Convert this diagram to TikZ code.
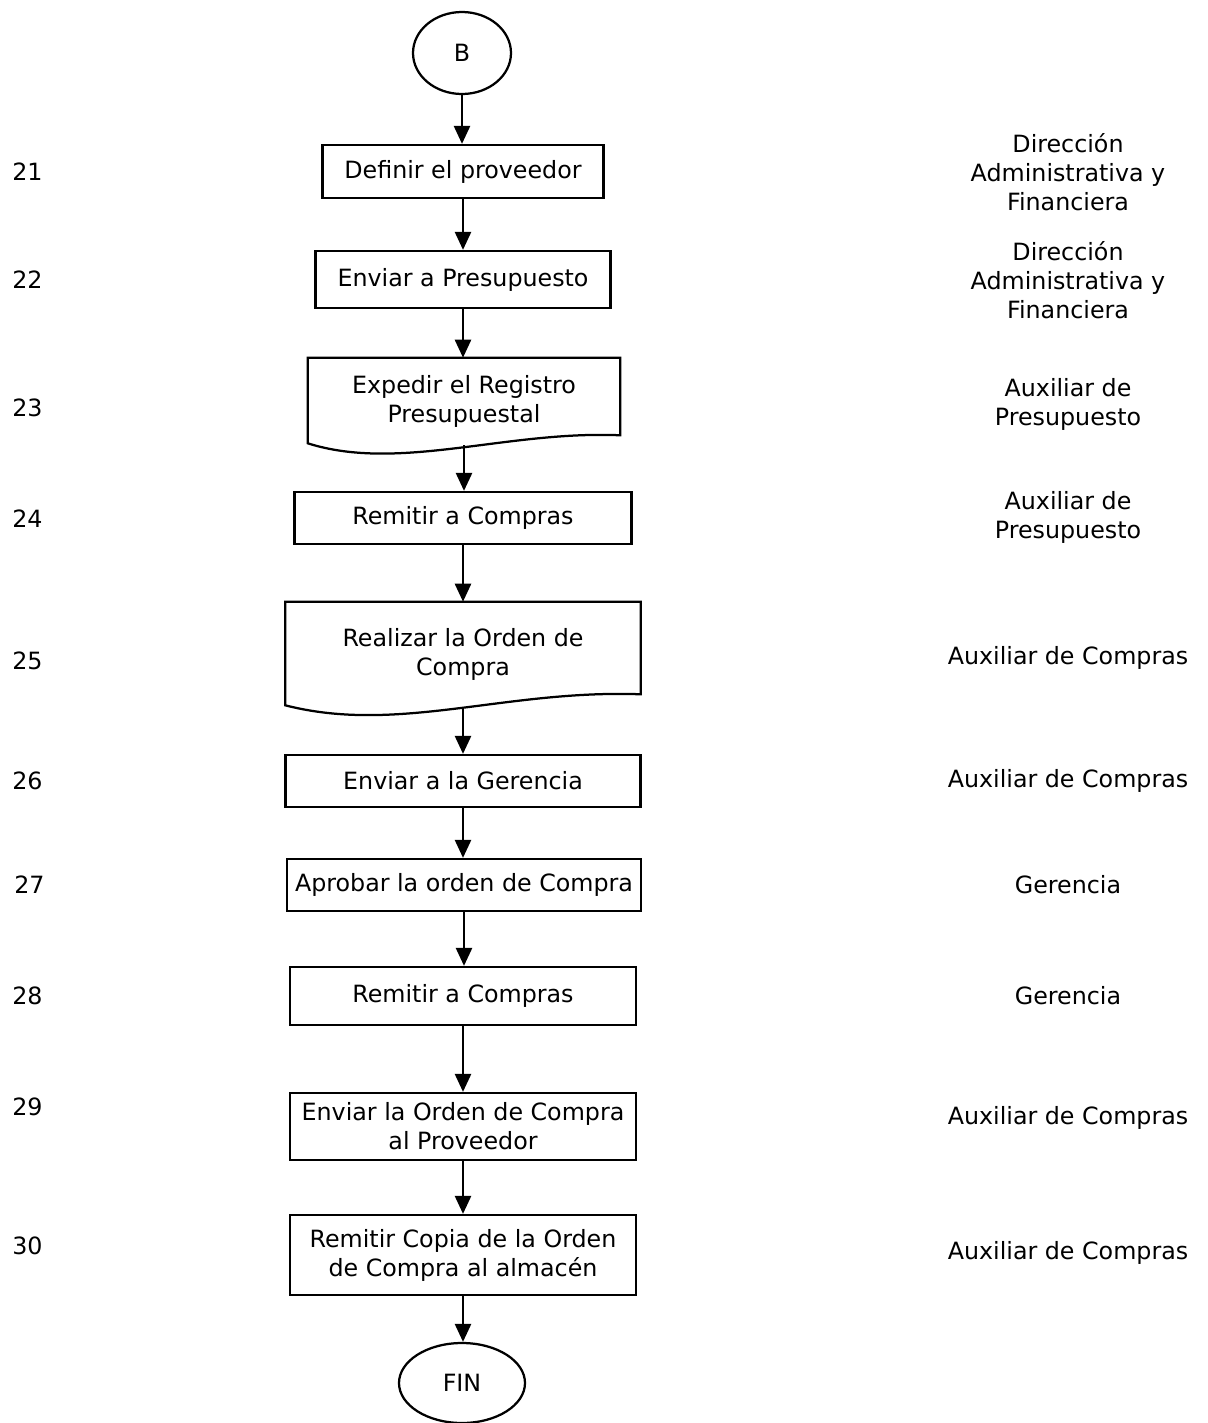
\documentclass[tikz,border=0pt]{standalone}
\usepackage{fontspec}
\setmainfont{DejaVu Sans}
\usetikzlibrary{shapes.geometric, arrows.meta, positioning, calc}

\newdimen\pxu \pxu=0.025cm

% document symbol: top, sides and wavy bottom drawn round a node
\newcommand{\docoutline}[2]{%
  \draw[line width=1.6pt] ($(#1.south west)+(0,-2)$) -- (#1.north west) -- (#1.north east) -- ($(#1.south east)+(0,-#2)$)
    .. controls ($(#1.south)+(42,-#2-5)$) and ($(#1.south)+(-65,27)$) .. ($(#1.south west)+(0,-2)$) -- cycle;}

\begin{document}
\begin{tikzpicture}[
    x=0.025cm, y=-0.025cm,
    font=\fontsize{16.9}{20.6}\selectfont,
    box/.style={rectangle, draw=black, line width=1.6pt, text centered, align=center, inner sep=0pt},
    doc/.style={rectangle, text centered, align=center, inner sep=0pt},
    term/.style={ellipse, draw=black, line width=1.6pt, inner sep=0pt},
    num/.style={anchor=west, inner sep=0pt},
    role/.style={align=center},
    arrow/.style={line width=1.8pt, -{Triangle[length=0.45cm, width=0.4cm]}}
]
\useasboundingbox (0,0) rectangle (1208,1423);

% Connector B
\node[term, minimum width=98\pxu, minimum height=82\pxu] (start) at (462,53) {B};

% Steps
\node[box, minimum width=281\pxu, minimum height=53\pxu] (s21) at (463,171.5) {Definir el proveedor};
\node[box, minimum width=295\pxu, minimum height=57\pxu] (s22) at (463,279.5) {Enviar a Presupuesto};
\node[doc, minimum width=312\pxu, minimum height=87\pxu] (s23) at (464,401.5) {Expedir el Registro\\Presupuestal};
\node[box, minimum width=337\pxu, minimum height=52\pxu] (s24) at (463,518) {Remitir a Compras};
\node[doc, minimum width=355\pxu, minimum height=105\pxu] (s25) at (463,654.5) {Realizar la Orden de\\Compra};
\node[box, minimum width=355\pxu, minimum height=52\pxu] (s26) at (463,781) {Enviar a la Gerencia};
\node[box, minimum width=354\pxu, minimum height=52\pxu] (s27) at (464,885) {Aprobar la orden de Compra};
\node[box, minimum width=346\pxu, minimum height=58\pxu] (s28) at (463,996) {Remitir a Compras};
\node[box, minimum width=346\pxu, minimum height=67\pxu] (s29) at (463,1126.5) {Enviar la Orden de Compra\\al Proveedor};
\node[box, minimum width=346\pxu, minimum height=80\pxu] (s30) at (463,1255) {Remitir Copia de la Orden\\de Compra al almacén};

% End
\node[term, minimum width=126\pxu, minimum height=80\pxu] (fin) at (462,1383) {FIN};

% Document outlines
\docoutline{s23}{10}
\docoutline{s25}{13}

% Arrows
\draw[arrow] (start.south) -- (start.south |- s21.north);
\draw[arrow] (s21.south) -- (s21.south |- s22.north);
\draw[arrow] (s22.south) -- (s22.south |- s23.north);
\draw[arrow] (s23.south) -- (s23.south |- s24.north);
\draw[arrow] (s24.south) -- (s24.south |- s25.north);
\draw[arrow] (s25.south) -- (s25.south |- s26.north);
\draw[arrow] (s26.south) -- (s26.south |- s27.north);
\draw[arrow] (s27.south) -- (s27.south |- s28.north);
\draw[arrow] (s28.south) -- (s28.south |- s29.north);
\draw[arrow] (s29.south) -- (s29.south |- s30.north);
\draw[arrow] (s30.south) -- (s30.south |- fin.north);

% Step numbers
\node[num] (n21) at (12,172) {21};
\node[num] (n22) at (12,280) {22};
\node[num] (n23) at (12,408) {23};
\node[num] (n24) at (12,519) {24};
\node[num] (n25) at (12,661) {25};
\node[num] (n26) at (12,781) {26};
\node[num] (n27) at (14,885) {27};
\node[num] (n28) at (12,996) {28};
\node[num] (n29) at (12,1107) {29};
\node[num] (n30) at (12,1246) {30};

% Responsible
\node[role] (r21) at (1068,172) {Dirección\\Administrativa y\\Financiera};
\node[role] (r22) at (1068,280) {Dirección\\Administrativa y\\Financiera};
\node[role] (r23) at (1068,404) {Auxiliar de\\Presupuesto};
\node[role] (r24) at (1068,517) {Auxiliar de\\Presupuesto};
\node[role] (r25) at (1068,658) {Auxiliar de Compras};
\node[role] (r26) at (1068,781) {Auxiliar de Compras};
\node[role] (r27) at (1068,885) {Gerencia};
\node[role] (r28) at (1068,996) {Gerencia};
\node[role] (r29) at (1068,1118) {Auxiliar de Compras};
\node[role] (r30) at (1068,1253) {Auxiliar de Compras};

\end{tikzpicture}
\end{document}
